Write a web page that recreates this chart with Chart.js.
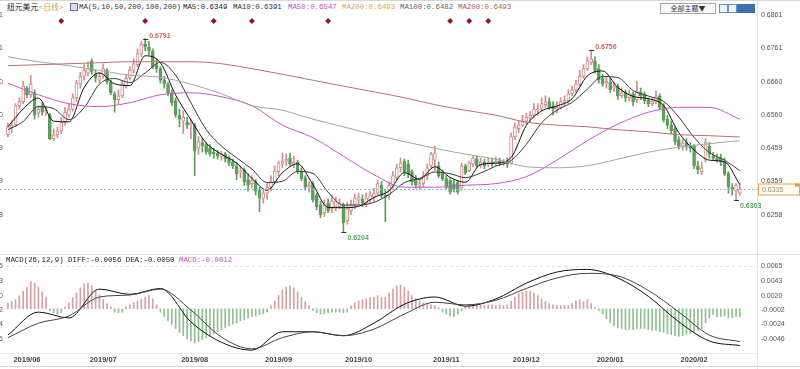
<!DOCTYPE html>
<html lang="zh">
<head>
<meta charset="utf-8" />
<title>纽元美元 日线</title>
<script src="https://cdn.jsdelivr.net/npm/chart.js@4.4.1/dist/chart.umd.min.js"></script>
<style>
    body { margin: 0; width: 800px; height: 369px; overflow: hidden; background: #fff; position: relative; font-family: "Liberation Sans", Arial, sans-serif; }
    #priceWrap { position: absolute; left: -40px; top: 0; width: 840px; height: 254px; }
    #macdWrap { position: absolute; left: -40px; top: 254px; width: 840px; height: 115px; }
    .txt { position: absolute; white-space: nowrap; font-family: "Liberation Mono", "DejaVu Sans Mono", monospace; font-size: 7.4px; line-height: 9px; color: #333; }
    .cjk { font-family: "Noto Sans CJK SC", sans-serif; font-size: 7.8px; }
    .line { position: absolute; background: #e2e2e2; }
    .btn { position: absolute; left: 660px; top: 3px; width: 54px; height: 9px; border: 1px solid #a8a8a8; font-family: "Noto Sans CJK SC", sans-serif; font-size: 7px; line-height: 9px; text-align: center; color: #333; background: #fafafa; }
    .ico { position: absolute; top: 4px; width: 7px; height: 7px; border: 1px solid #6f8fb8; background: #eef3fa; }
    .ico.on { background: #3f6fb0; border-color: #3f6fb0; }
</style>
</head>
<body>
    <div class="line" style="left:0;top:0;width:800px;height:1px;background:#d8d8d8"></div>
    <div class="txt cjk" style="left:7px;top:2px;color:#222">纽元美元</div>
    <div class="txt cjk" style="left:39px;top:2px;color:#d4a04c">&lt;日线&gt;</div>
    <div style="position:absolute;left:70px;top:3px;width:6px;height:6px;border:1px solid #6a6a9a;background:#dcdcf0"></div>
    <div class="txt" style="left:79px;top:3px;color:#333">MA(5,10,50,200,100,200)</div>
    <div class="txt" style="left:183px;top:3px;color:#222">MA5:0.6349</div>
    <div class="txt" style="left:233px;top:3px;color:#333">MA10:0.6391</div>
    <div class="txt" style="left:288px;top:3px;color:#c24fc2">MA50:0.6547</div>
    <div class="txt" style="left:342px;top:3px;color:#d6a45c">MA200:0.6493</div>
    <div class="txt" style="left:400px;top:3px;color:#666">MA100:0.6482</div>
    <div class="txt" style="left:458px;top:3px;color:#b35a5a">MA200:0.6493</div>
    <div class="btn">全部主题▼</div>
    <div class="ico" style="left:719px"></div>
    <div class="ico" style="left:728px"></div>
    <div class="ico on" style="left:737px"></div>
    <div class="ico on" style="left:746px"></div>

    <div id="priceWrap"><canvas id="priceChart" width="840" height="254"></canvas></div>
    <div id="macdWrap"><canvas id="macdChart" width="840" height="115"></canvas></div>

    <div class="line" style="left:0;top:254px;width:800px;height:1px"></div>
    <div class="line" style="left:0;top:353px;width:757px;height:1px;background:#ececec"></div>
    <div class="line" style="left:0;top:366px;width:800px;height:1px;background:#d6d6d6"></div>
    <div class="line" style="left:757px;top:0;width:1px;height:369px;background:#e4e4e4"></div>
    <div class="txt" style="left:6px;top:256px;color:#222">MACD(26,12,9) DIFF:-0.0056 DEA:-0.0050 <span style="color:#c24fc2">MACD:-0.0012</span></div>

    <script>
        // daily candles, NZD/USD
        const open = [
            0.6500, 0.6521, 0.6529, 0.6588, 0.6600, 0.6641, 0.6621, 0.6627, 0.6565, 0.6588,
            0.6571, 0.6559, 0.6488, 0.6500, 0.6512, 0.6538, 0.6559, 0.6577, 0.6612, 0.6653,
            0.6677, 0.6686, 0.6724, 0.6683, 0.6665, 0.6677, 0.6695, 0.6659, 0.6624, 0.6606,
            0.6618, 0.6647, 0.6671, 0.6695, 0.6712, 0.6745, 0.6774, 0.6765, 0.6754, 0.6712,
            0.6700, 0.6665, 0.6653, 0.6627, 0.6603, 0.6559, 0.6541, 0.6538, 0.6529, 0.6529,
            0.6459, 0.6476, 0.6470, 0.6459, 0.6447, 0.6444, 0.6435, 0.6441, 0.6429, 0.6417,
            0.6406, 0.6388, 0.6394, 0.6364, 0.6352, 0.6358, 0.6332, 0.6308, 0.6323, 0.6341,
            0.6358, 0.6388, 0.6414, 0.6420, 0.6429, 0.6411, 0.6417, 0.6388, 0.6370, 0.6341,
            0.6352, 0.6317, 0.6288, 0.6264, 0.6293, 0.6276, 0.6282, 0.6282, 0.6288, 0.6240,
            0.6270, 0.6288, 0.6302, 0.6305, 0.6293, 0.6302, 0.6311, 0.6323, 0.6347, 0.6317,
            0.6317, 0.6347, 0.6370, 0.6400, 0.6420, 0.6411, 0.6388, 0.6364, 0.6347, 0.6352,
            0.6376, 0.6406, 0.6423, 0.6406, 0.6385, 0.6367, 0.6361, 0.6352, 0.6355, 0.6338,
            0.6406, 0.6391, 0.6411, 0.6426, 0.6406, 0.6417, 0.6411, 0.6417, 0.6414, 0.6420,
            0.6414, 0.6417, 0.6414, 0.6494, 0.6518, 0.6529, 0.6541, 0.6550, 0.6559, 0.6574,
            0.6577, 0.6591, 0.6600, 0.6588, 0.6577, 0.6583, 0.6597, 0.6603, 0.6624, 0.6636,
            0.6653, 0.6677, 0.6700, 0.6718, 0.6724, 0.6700, 0.6671, 0.6656, 0.6659, 0.6641,
            0.6647, 0.6618, 0.6630, 0.6612, 0.6624, 0.6606, 0.6630, 0.6624, 0.6606, 0.6594,
            0.6600, 0.6618, 0.6588, 0.6547, 0.6529, 0.6518, 0.6485, 0.6465, 0.6476, 0.6465,
            0.6465, 0.6406, 0.6388, 0.6423, 0.6465, 0.6435, 0.6429, 0.6429, 0.6417, 0.6382,
            0.6341, 0.6329, 0.6323
        ];
        const high = [
            0.6535, 0.6541, 0.6594, 0.6612, 0.6662, 0.6647, 0.6680, 0.6636, 0.6588, 0.6597,
            0.6583, 0.6565, 0.6518, 0.6524, 0.6553, 0.6583, 0.6594, 0.6624, 0.6665, 0.6689,
            0.6712, 0.6721, 0.6730, 0.6695, 0.6689, 0.6715, 0.6700, 0.6665, 0.6630, 0.6636,
            0.6665, 0.6683, 0.6706, 0.6730, 0.6760, 0.6783, 0.6791, 0.6783, 0.6760, 0.6730,
            0.6706, 0.6677, 0.6659, 0.6636, 0.6612, 0.6577, 0.6571, 0.6553, 0.6547, 0.6535,
            0.6494, 0.6488, 0.6476, 0.6470, 0.6459, 0.6453, 0.6450, 0.6447, 0.6435, 0.6426,
            0.6417, 0.6406, 0.6400, 0.6382, 0.6376, 0.6364, 0.6341, 0.6332, 0.6352, 0.6376,
            0.6406, 0.6420, 0.6444, 0.6441, 0.6444, 0.6435, 0.6423, 0.6400, 0.6376, 0.6358,
            0.6358, 0.6323, 0.6299, 0.6302, 0.6305, 0.6317, 0.6311, 0.6305, 0.6293, 0.6296,
            0.6302, 0.6320, 0.6323, 0.6317, 0.6323, 0.6329, 0.6338, 0.6361, 0.6358, 0.6332,
            0.6358, 0.6388, 0.6411, 0.6429, 0.6426, 0.6423, 0.6394, 0.6376, 0.6364, 0.6388,
            0.6411, 0.6447, 0.6465, 0.6417, 0.6394, 0.6376, 0.6367, 0.6364, 0.6361, 0.6414,
            0.6411, 0.6420, 0.6435, 0.6435, 0.6429, 0.6426, 0.6429, 0.6429, 0.6432, 0.6429,
            0.6426, 0.6429, 0.6506, 0.6535, 0.6541, 0.6559, 0.6565, 0.6571, 0.6594, 0.6594,
            0.6612, 0.6618, 0.6612, 0.6600, 0.6600, 0.6612, 0.6618, 0.6636, 0.6647, 0.6665,
            0.6695, 0.6712, 0.6736, 0.6756, 0.6736, 0.6712, 0.6683, 0.6677, 0.6671, 0.6659,
            0.6653, 0.6641, 0.6636, 0.6636, 0.6630, 0.6662, 0.6641, 0.6630, 0.6612, 0.6612,
            0.6633, 0.6624, 0.6594, 0.6559, 0.6541, 0.6524, 0.6494, 0.6485, 0.6488, 0.6476,
            0.6470, 0.6420, 0.6417, 0.6488, 0.6476, 0.6447, 0.6441, 0.6441, 0.6429, 0.6388,
            0.6352, 0.6352, 0.6352
        ];
        const low = [
            0.6494, 0.6506, 0.6524, 0.6577, 0.6594, 0.6612, 0.6612, 0.6547, 0.6553, 0.6559,
            0.6559, 0.6485, 0.6482, 0.6491, 0.6503, 0.6529, 0.6553, 0.6571, 0.6600, 0.6641,
            0.6665, 0.6677, 0.6683, 0.6659, 0.6656, 0.6671, 0.6653, 0.6621, 0.6568, 0.6594,
            0.6612, 0.6641, 0.6665, 0.6686, 0.6706, 0.6736, 0.6754, 0.6742, 0.6700, 0.6689,
            0.6656, 0.6641, 0.6618, 0.6588, 0.6553, 0.6524, 0.6503, 0.6518, 0.6488, 0.6376,
            0.6441, 0.6447, 0.6441, 0.6435, 0.6429, 0.6426, 0.6423, 0.6417, 0.6406, 0.6397,
            0.6364, 0.6370, 0.6347, 0.6329, 0.6338, 0.6317, 0.6267, 0.6293, 0.6305, 0.6329,
            0.6352, 0.6376, 0.6400, 0.6406, 0.6406, 0.6400, 0.6382, 0.6361, 0.6332, 0.6326,
            0.6296, 0.6273, 0.6249, 0.6252, 0.6264, 0.6264, 0.6270, 0.6276, 0.6204, 0.6229,
            0.6258, 0.6276, 0.6288, 0.6282, 0.6282, 0.6293, 0.6299, 0.6317, 0.6308, 0.6237,
            0.6305, 0.6338, 0.6364, 0.6388, 0.6376, 0.6370, 0.6347, 0.6338, 0.6335, 0.6341,
            0.6364, 0.6400, 0.6391, 0.6370, 0.6361, 0.6335, 0.6320, 0.6326, 0.6320, 0.6332,
            0.6379, 0.6388, 0.6403, 0.6400, 0.6400, 0.6397, 0.6403, 0.6403, 0.6406, 0.6406,
            0.6406, 0.6400, 0.6411, 0.6485, 0.6506, 0.6524, 0.6532, 0.6541, 0.6553, 0.6559,
            0.6571, 0.6583, 0.6577, 0.6559, 0.6565, 0.6577, 0.6588, 0.6594, 0.6618, 0.6627,
            0.6647, 0.6671, 0.6695, 0.6712, 0.6686, 0.6656, 0.6647, 0.6641, 0.6627, 0.6630,
            0.6606, 0.6612, 0.6600, 0.6603, 0.6588, 0.6597, 0.6606, 0.6594, 0.6585, 0.6588,
            0.6594, 0.6577, 0.6538, 0.6518, 0.6503, 0.6470, 0.6456, 0.6453, 0.6453, 0.6447,
            0.6397, 0.6382, 0.6379, 0.6417, 0.6429, 0.6423, 0.6417, 0.6406, 0.6376, 0.6323,
            0.6317, 0.6303, 0.6317
        ];
        const close = [
            0.6524, 0.6529, 0.6588, 0.6600, 0.6647, 0.6621, 0.6653, 0.6559, 0.6577, 0.6568,
            0.6574, 0.6488, 0.6500, 0.6512, 0.6538, 0.6568, 0.6577, 0.6612, 0.6656, 0.6677,
            0.6695, 0.6700, 0.6692, 0.6671, 0.6677, 0.6700, 0.6659, 0.6627, 0.6606, 0.6618,
            0.6653, 0.6671, 0.6695, 0.6715, 0.6745, 0.6774, 0.6765, 0.6754, 0.6706, 0.6700,
            0.6665, 0.6653, 0.6627, 0.6597, 0.6559, 0.6547, 0.6553, 0.6529, 0.6535, 0.6450,
            0.6479, 0.6465, 0.6447, 0.6441, 0.6441, 0.6435, 0.6441, 0.6426, 0.6414, 0.6406,
            0.6382, 0.6391, 0.6358, 0.6347, 0.6361, 0.6329, 0.6308, 0.6323, 0.6341, 0.6358,
            0.6391, 0.6414, 0.6420, 0.6426, 0.6411, 0.6417, 0.6388, 0.6367, 0.6341, 0.6347,
            0.6302, 0.6282, 0.6258, 0.6288, 0.6270, 0.6299, 0.6299, 0.6293, 0.6234, 0.6276,
            0.6288, 0.6308, 0.6311, 0.6293, 0.6308, 0.6317, 0.6323, 0.6352, 0.6317, 0.6311,
            0.6347, 0.6376, 0.6400, 0.6414, 0.6388, 0.6382, 0.6358, 0.6347, 0.6352, 0.6376,
            0.6400, 0.6441, 0.6444, 0.6376, 0.6367, 0.6341, 0.6326, 0.6335, 0.6326, 0.6406,
            0.6385, 0.6414, 0.6429, 0.6406, 0.6417, 0.6406, 0.6417, 0.6411, 0.6420, 0.6414,
            0.6417, 0.6411, 0.6494, 0.6524, 0.6529, 0.6541, 0.6553, 0.6559, 0.6577, 0.6577,
            0.6594, 0.6600, 0.6583, 0.6577, 0.6583, 0.6600, 0.6603, 0.6624, 0.6636, 0.6653,
            0.6677, 0.6700, 0.6724, 0.6730, 0.6695, 0.6665, 0.6653, 0.6662, 0.6636, 0.6647,
            0.6618, 0.6627, 0.6612, 0.6624, 0.6600, 0.6630, 0.6618, 0.6603, 0.6594, 0.6600,
            0.6618, 0.6583, 0.6544, 0.6529, 0.6512, 0.6479, 0.6465, 0.6473, 0.6465, 0.6459,
            0.6406, 0.6394, 0.6400, 0.6476, 0.6441, 0.6429, 0.6423, 0.6417, 0.6382, 0.6341,
            0.6335, 0.6347, 0.6335
        ];

        // moving averages: MA5/MA10 every 4th bar, the long ones every 8th bar
        const ma5 = [0.6524, 0.6578, 0.6611, 0.6541, 0.6539, 0.6643, 0.6687, 0.6654, 0.6649, 0.6739, 0.6718, 0.6620, 0.6545,
            0.6475, 0.6441, 0.6414, 0.6368, 0.6332, 0.6385, 0.6412, 0.6349, 0.6280, 0.6279, 0.6283, 0.6310, 0.6330,
            0.6385, 0.6365, 0.6403, 0.6371, 0.6356, 0.6410, 0.6414, 0.6431, 0.6528, 0.6572, 0.6587, 0.6609, 0.6678,
            0.6693, 0.6643, 0.6616, 0.6609, 0.6588, 0.6506, 0.6454, 0.6423, 0.6418, 0.6349];
        const ma10 = [0.6515, 0.6540, 0.6585, 0.6579, 0.6546, 0.6582, 0.6653, 0.6670, 0.6658, 0.6687, 0.6719, 0.6680, 0.6597,
            0.6516, 0.6466, 0.6430, 0.6396, 0.6355, 0.6359, 0.6389, 0.6383, 0.6326, 0.6287, 0.6287, 0.6295, 0.6319,
            0.6355, 0.6368, 0.6387, 0.6382, 0.6370, 0.6384, 0.6405, 0.6422, 0.6471, 0.6536, 0.6574, 0.6598, 0.6638,
            0.6676, 0.6673, 0.6634, 0.6617, 0.6601, 0.6553, 0.6492, 0.6446, 0.6423, 0.6391];
        const ma50 = [0.6656, 0.6621, 0.6594, 0.6585, 0.6597, 0.6621, 0.6627, 0.6615, 0.6588, 0.6529, 0.6491, 0.6435, 0.6379,
            0.6341, 0.6341, 0.6347, 0.6352, 0.6373, 0.6423, 0.6482, 0.6532, 0.6568, 0.6583, 0.6583, 0.6547];
        const ma100 = [0.6736, 0.6721, 0.6709, 0.6695, 0.6680, 0.6674, 0.6653, 0.6624, 0.6588, 0.6574, 0.6547, 0.6524, 0.6500,
            0.6479, 0.6459, 0.6441, 0.6426, 0.6403, 0.6400, 0.6406, 0.6426, 0.6447, 0.6462, 0.6473, 0.6482];
        const ma200 = [0.6709, 0.6712, 0.6715, 0.6718, 0.6721, 0.6721, 0.6721, 0.6715, 0.6700, 0.6683, 0.6665, 0.6647, 0.6630,
            0.6612, 0.6591, 0.6574, 0.6559, 0.6538, 0.6529, 0.6524, 0.6515, 0.6509, 0.6500, 0.6497, 0.6493];

        // MACD(26,12,9): lines every 8th bar, histogram every bar
        const diff = [-0.0040, -0.0005, -0.0014, 0.0030, 0.0022, 0.0031, -0.0020, -0.0051, -0.0063, -0.0035, -0.0035, -0.0041,
            -0.0022, 0.0007, 0.0018, 0.0004, 0.0015, 0.0039, 0.0056, 0.0060, 0.0047, 0.0019, -0.0020, -0.0049, -0.0056];
        const dea = [-0.0044, -0.0022, -0.0011, 0.0018, 0.0021, 0.0030, -0.0002, -0.0043, -0.0061, -0.0044, -0.0035, -0.0041,
            -0.0031, -0.0008, 0.0010, 0.0006, 0.0013, 0.0031, 0.0047, 0.0054, 0.0050, 0.0028, -0.0005, -0.0040, -0.0050];
        const macd = [
            0.0009, 0.0011, 0.0014, 0.0020, 0.0027, 0.0033, 0.0041, 0.0039, 0.0033, 0.0026,
            0.0018, -0.0003, -0.0006, -0.0008, -0.0006, 0.0003, 0.0009, 0.0017, 0.0024, 0.0032,
            0.0038, 0.0039, 0.0035, 0.0027, 0.0021, 0.0014, 0.0008, 0.0003, -0.0005, -0.0006,
            -0.0005, 0.0003, 0.0006, 0.0009, 0.0012, 0.0015, 0.0018, 0.0020, 0.0015, 0.0006,
            -0.0005, -0.0012, -0.0018, -0.0024, -0.0030, -0.0036, -0.0041, -0.0046, -0.0049, -0.0052,
            -0.0050, -0.0047, -0.0044, -0.0041, -0.0038, -0.0035, -0.0032, -0.0029, -0.0026, -0.0023,
            -0.0021, -0.0018, -0.0017, -0.0014, -0.0012, -0.0011, -0.0009, -0.0008, -0.0005, 0.0005,
            0.0012, 0.0021, 0.0029, 0.0033, 0.0035, 0.0032, 0.0026, 0.0018, 0.0011, 0.0005,
            -0.0003, -0.0006, -0.0008, -0.0008, -0.0006, -0.0005, -0.0005, -0.0005, -0.0006, -0.0005,
            0.0005, 0.0009, 0.0012, 0.0014, 0.0015, 0.0017, 0.0018, 0.0020, 0.0017, 0.0018,
            0.0024, 0.0030, 0.0035, 0.0036, 0.0033, 0.0027, 0.0020, 0.0015, 0.0012, 0.0009,
            0.0008, 0.0006, 0.0005, 0.0002, -0.0005, -0.0008, -0.0011, -0.0012, -0.0008, -0.0003,
            0.0003, 0.0006, 0.0006, 0.0006, 0.0006, 0.0005, 0.0006, 0.0006, 0.0005, 0.0006,
            0.0005, 0.0006, 0.0012, 0.0018, 0.0023, 0.0026, 0.0027, 0.0027, 0.0024, 0.0020,
            0.0015, 0.0011, 0.0008, 0.0006, 0.0005, 0.0005, 0.0005, 0.0005, 0.0008, 0.0012,
            0.0014, 0.0011, 0.0014, 0.0008, 0.0002, -0.0003, -0.0008, -0.0015, -0.0021, -0.0026,
            -0.0029, -0.0030, -0.0032, -0.0032, -0.0032, -0.0030, -0.0030, -0.0030, -0.0032, -0.0033,
            -0.0033, -0.0035, -0.0036, -0.0038, -0.0039, -0.0041, -0.0042, -0.0041, -0.0039, -0.0038,
            -0.0036, -0.0033, -0.0030, -0.0021, -0.0014, -0.0009, -0.0012, -0.0012, -0.0011, -0.0014,
            -0.0014, -0.0012, -0.0012
        ];

        const priceTicks = [0.6258, 0.6359, 0.6459, 0.6560, 0.6660, 0.6761, 0.6861];
        const macdTicks = [0.0065, 0.0043, 0.0020, -0.0002, -0.0024, -0.0046];
        const monthLabels = ['2019/06', '2019/07', '2019/08', '2019/09', '2019/10', '2019/11', '2019/12', '2020/01', '2020/02'];
        const monthStart = [5, 25, 49, 71, 92, 115, 136, 158, 180];
        const lastPrice = 0.6335;
        const highMarks = [36, 153];
        const lowMarks = [88, 191];
        const eventBars = [14, 36, 54, 64, 84, 116, 121, 126];

        const UP = '#d48c8c', DOWN = '#5d9e5d';
        const slots = close.length + 4; // empty room at the right edge
        const cats = Array.from({ length: slots }, (_, i) => String(i));
        const isUp = close.map((c, i) => c >= open[i]);

        function spread(vals, step) {
            const out = new Array(close.length).fill(null);
            vals.forEach((v, k) => { out[k * step] = v; });
            return out;
        }
        function lineDs(data, color, yAxisID) {
            return {
                type: 'line', data: data, borderColor: color, borderWidth: 1, pointRadius: 0,
                spanGaps: true, cubicInterpolationMode: 'monotone', yAxisID: yAxisID, order: 0
            };
        }
        function fixedTicks(list) {
            return function (scale) { scale.ticks = list.map(v => ({ value: v })); };
        }

        Chart.defaults.font.family = '"Liberation Sans", Arial, sans-serif';
        Chart.defaults.font.size = 7;
        Chart.defaults.color = '#555';

        const priceMarks = {
            id: 'priceMarks',
            afterDatasetsDraw(chart) {
                const { ctx, chartArea: a } = chart;
                const x = chart.scales.x, y = chart.scales.y;
                ctx.save();
                // last price dotted line and box
                const ly = Math.round(y.getPixelForValue(lastPrice)) + 0.5;
                ctx.strokeStyle = '#86b9d2';
                ctx.lineWidth = 1;
                ctx.setLineDash([2, 2]);
                ctx.beginPath();
                ctx.moveTo(a.left - 6, ly);
                ctx.lineTo(a.right, ly);
                ctx.stroke();
                ctx.setLineDash([]);
                ctx.fillStyle = '#fffcf4';
                ctx.fillRect(a.right + 1, ly - 6, 42, 12);
                ctx.strokeStyle = '#e8a646';
                ctx.strokeRect(a.right + 1.5, ly - 5.5, 41, 11);
                ctx.fillStyle = '#e8962c';
                ctx.fillRect(a.right + 38, ly - 6, 4, 3);
                ctx.font = '7px "Liberation Sans"';
                ctx.textAlign = 'left';
                ctx.textBaseline = 'middle';
                ctx.fillStyle = '#9c8a70';
                ctx.fillText(lastPrice.toFixed(4), a.right + 5, ly + 0.5);

                // highest / lowest labels
                ctx.font = 'bold 7px "Liberation Sans"';
                ctx.strokeStyle = '#333';
                highMarks.forEach(i => {
                    const px = x.getPixelForValue(i), py = Math.round(y.getPixelForValue(high[i])) + 0.5;
                    ctx.beginPath(); ctx.moveTo(px - 2, py); ctx.lineTo(px + 3, py); ctx.stroke();
                    ctx.fillStyle = '#d26464';
                    ctx.textBaseline = 'bottom';
                    ctx.fillText(high[i].toFixed(4), px + 4, py);
                });
                lowMarks.forEach(i => {
                    const px = x.getPixelForValue(i), py = Math.round(y.getPixelForValue(low[i])) + 0.5;
                    ctx.beginPath(); ctx.moveTo(px - 2, py); ctx.lineTo(px + 3, py); ctx.stroke();
                    ctx.fillStyle = '#5fa35f';
                    ctx.textBaseline = 'top';
                    ctx.fillText(low[i].toFixed(4), px + 4, py + 2);
                });

                // event diamonds
                ctx.fillStyle = '#8a1d1d';
                eventBars.forEach(i => {
                    const px = x.getPixelForValue(i), py = a.top + 9;
                    ctx.beginPath();
                    ctx.moveTo(px, py - 3); ctx.lineTo(px + 3, py); ctx.lineTo(px, py + 3); ctx.lineTo(px - 3, py);
                    ctx.closePath(); ctx.fill();
                });
                ctx.restore();
            }
        };

        new Chart(document.getElementById('priceChart'), {
            type: 'bar',
            data: {
                labels: cats,
                datasets: [
                    lineDs(spread(ma200, 8), '#b77272', 'y'),
                    lineDs(spread(ma100, 8), '#a4a4a4', 'y'),
                    lineDs(spread(ma50, 8), '#c957c9', 'y'),
                    lineDs(spread(ma10, 4), '#3a3a3a', 'y'),
                    lineDs(spread(ma5, 4), '#111', 'y'),
                    {
                        label: 'body', yAxisID: 'y', order: 1, grouped: false,
                        data: open.map((o, i) => [o, close[i]]),
                        backgroundColor: isUp.map(u => u ? '#ffffff' : DOWN),
                        borderColor: isUp.map(u => u ? UP : DOWN),
                        borderWidth: 1, borderSkipped: false, barThickness: 3
                    },
                    {
                        label: 'wick', yAxisID: 'y', order: 2, grouped: false,
                        data: low.map((l, i) => [l, high[i]]),
                        backgroundColor: isUp.map(u => u ? UP : DOWN),
                        barThickness: 1
                    }
                ]
            },
            options: {
                responsive: false, animation: false, devicePixelRatio: 1,
                layout: { padding: { top: 12, bottom: 2, left: 0, right: 0 } },
                plugins: { legend: { display: false }, tooltip: { enabled: false } },
                scales: {
                    x: { display: false, offset: true, grid: { display: false } },
                    y: {
                        position: 'right', min: 0.61636, max: 0.68716,
                        afterFit: s => { s.width = 43; },
                        afterBuildTicks: fixedTicks(priceTicks),
                        ticks: { padding: 4, color: '#555', callback: v => v.toFixed(4) },
                        grid: { display: false, drawTicks: false }, border: { display: false }
                    },
                    yL: {
                        position: 'left', min: 0.61636, max: 0.68716,
                        afterFit: s => { s.width = 46; },
                        afterBuildTicks: fixedTicks(priceTicks),
                        ticks: { padding: 3, color: '#555', callback: v => v.toFixed(4) },
                        grid: { display: false, drawTicks: false }, border: { display: false }
                    }
                }
            },
            plugins: [priceMarks]
        });

        new Chart(document.getElementById('macdChart'), {
            type: 'bar',
            data: {
                labels: cats,
                datasets: [
                    lineDs(spread(dea, 8), '#444', 'y'),
                    lineDs(spread(diff, 8), '#111', 'y'),
                    {
                        label: 'MACD', yAxisID: 'y', order: 1,
                        data: macd,
                        backgroundColor: macd.map(v => v >= 0 ? '#d8a0a0' : '#8fbf8f'),
                        barThickness: 1
                    }
                ]
            },
            options: {
                responsive: false, animation: false, devicePixelRatio: 1,
                layout: { padding: { top: 8, bottom: 0, left: 0, right: 0 } },
                plugins: { legend: { display: false }, tooltip: { enabled: false } },
                scales: {
                    x: {
                        offset: true,
                        afterFit: s => { s.height = 16; },
                        grid: { display: false, drawTicks: false }, border: { display: false },
                        ticks: {
                            autoSkip: false, maxRotation: 0, padding: 2, color: '#444',
                            font: { size: 7.5, weight: 'bold' },
                            callback: (v, i) => {
                                const k = monthStart.indexOf(i);
                                return k >= 0 ? monthLabels[k] : '';
                            }
                        }
                    },
                    y: {
                        position: 'right', min: -0.006736, max: 0.0071,
                        afterFit: s => { s.width = 43; },
                        afterBuildTicks: fixedTicks(macdTicks),
                        ticks: { padding: 4, color: '#555', callback: v => v.toFixed(4) },
                        grid: {
                            drawTicks: false,
                            color: c => c.tick && c.tick.value === 0.0065 ? '#e4e4e4' : 'rgba(0,0,0,0)'
                        },
                        border: { display: false, dash: [3, 3] }
                    },
                    yL: {
                        position: 'left', min: -0.006736, max: 0.0071,
                        afterFit: s => { s.width = 46; },
                        afterBuildTicks: fixedTicks(macdTicks),
                        ticks: { padding: 3, color: '#555', callback: v => v.toFixed(4) },
                        grid: { display: false, drawTicks: false }, border: { display: false }
                    }
                }
            }
        });
    </script>
</body>
</html>
